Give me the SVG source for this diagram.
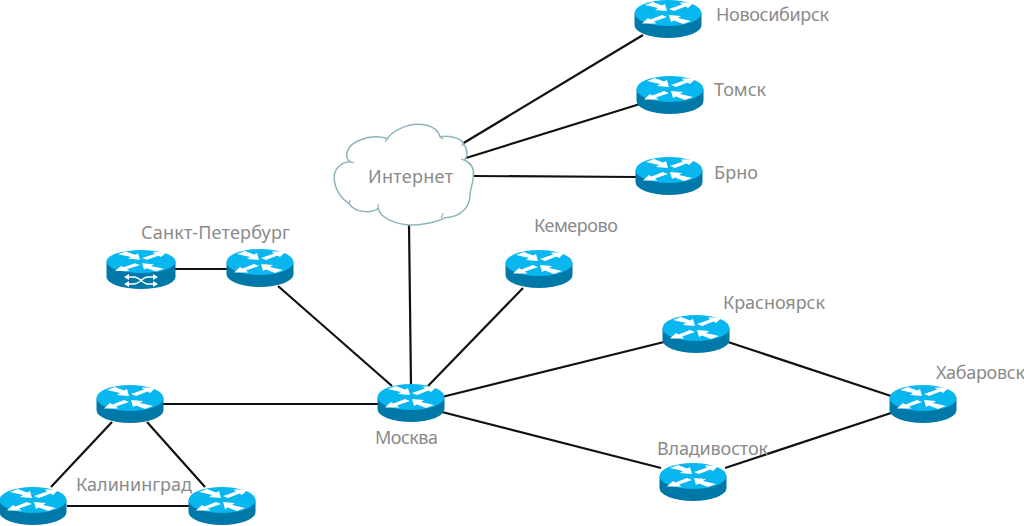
<svg xmlns="http://www.w3.org/2000/svg" width="1024" height="526" viewBox="0 0 1024 526">
<style>
.l{stroke:#111;stroke-width:2.2;fill:none}
.t{font-family:"Noto Sans","Open Sans",sans-serif;font-size:18px;fill:#8a8a8a}
.a{fill:#fff}
</style>
<defs>
<g id="arrows">
<path class="a" d="M1-4L14-8.500L11.500-10.500L26-10.500L20-5L17.500-6.500L6-2Z"/>
<path class="a" d="M-1 4L-14 8.500L-11.500 10.500L-26 10.500L-20 5L-17.500 6.500L-6 2Z"/>
<path class="a" d="M-23-8L-15-11L-6-7.500L-3-9L-1-2L-13-3L-10-5Z"/>
<path class="a" d="M23 8L15 11L6 7.500L3 9L1 2L13 3L10 5Z"/>
</g>
<g id="router">
<path d="M-33.500 0V12A33.500 13 0 0 0 33.500 12V0Z" fill="#0078a8"/>
<ellipse rx="33.500" ry="13" fill="#08b6f0"/>
<use href="#arrows"/>
</g>
</defs>
<g id="connectors">
<line class="l" x1="462" y1="144" x2="643" y2="35"/>
<line class="l" x1="466" y1="158" x2="640" y2="104"/>
<line class="l" x1="473" y1="176" x2="637" y2="177"/>
<line class="l" x1="409" y1="224" x2="411" y2="386"/>
<line class="l" x1="175" y1="269" x2="227" y2="269"/>
<line class="l" x1="278" y1="286" x2="392" y2="386"/>
<line class="l" x1="523" y1="288" x2="428" y2="386"/>
<line class="l" x1="163" y1="404" x2="378" y2="404"/>
<line class="l" x1="442" y1="397" x2="664" y2="342"/>
<line class="l" x1="442" y1="412" x2="661" y2="468"/>
<line class="l" x1="728" y1="342" x2="891" y2="396"/>
<line class="l" x1="725" y1="468" x2="891" y2="413"/>
<line class="l" x1="112" y1="422" x2="51" y2="487"/>
<line class="l" x1="147" y1="422" x2="205" y2="487"/>
<line class="l" x1="67" y1="506" x2="189" y2="506"/>
</g>
<g id="internet">
<path d="M387.300 139C391.700 131.700 405 124.300 418.300 124.300C431 124.300 438 130 440 136.700C448.300 135 460 137.700 463.300 143.300C468.300 150 467.700 156.700 464.300 160C471.700 163.300 474.300 170 473.300 176.700C473.300 181.700 470 190 470 195C470 205 463.300 216.700 445 217.700C438.300 222 418.300 225.700 408.300 225C391.700 223.300 380 216.700 378.300 208.300C371.700 213.300 355 213.300 349 203.300C340 198.300 333.300 186.700 334.300 175C335.700 166.700 343.300 161.700 350 161.700C343.300 156.700 346.700 145 360 140C371.700 135 383.300 136.700 387.300 139Z" fill="#fff" stroke="#8fb5bc" stroke-width="1.500"/>
<path d="M443.300 213.300L441 218M378.300 208.300L378 204M349 203.300L350 200M350 161.700L354 163M387.300 139L385 142M440 136.700L443 139M463.300 143.300L462 146M464.300 160L461 159" fill="none" stroke="#8fb5bc" stroke-width="1.200"/>
<text class="t" x="368" y="183" textLength="85">Интернет</text>
</g>
<g id="novosibirsk"><use href="#router" x="668" y="13"/><text class="t" x="716" y="21" textLength="113">Новосибирск</text></g>
<g id="tomsk"><use href="#router" x="670" y="89"/><text class="t" x="714" y="96" textLength="52">Томск</text></g>
<g id="brno"><use href="#router" x="669" y="170"/><text class="t" x="714" y="179" textLength="44">Брно</text></g>
<g id="spb"><use href="#router" x="260" y="262"/><text class="t" x="141" y="239" textLength="149">Санкт-Петербург</text></g>
<g id="spb-switch">
<path d="M106.500 261V277A34.500 12 0 0 0 175.500 277V261Z" fill="#0078a8"/>
<ellipse cx="141" cy="261.500" rx="34.500" ry="11.500" fill="#08b6f0"/>
<use href="#arrows" transform="translate(141 261.500) scale(1 .9)"/>
<path d="M127 277H134C140 277 142 284 148 284H155M127 284H134C140 284 142 277 148 277H155" stroke="#fff" stroke-width="1.500" fill="none"/>
<path class="a" d="M153 274L158 277L153 280ZM153 281L158 284L153 287ZM129 274L124 277L129 280ZM129 281L124 284L129 287Z"/>
</g>
<g id="kemerovo"><use href="#router" x="539" y="263"/><text class="t" x="534" y="232" textLength="84">Кемерово</text></g>
<g id="krasnoyarsk"><use href="#router" x="696" y="328"/><text class="t" x="723" y="309" textLength="102">Красноярск</text></g>
<g id="khabarovsk"><use href="#router" x="923" y="398"/><text class="t" x="936" y="379" textLength="89">Хабаровск</text></g>
<g id="moscow"><use href="#router" x="411" y="397"/><text class="t" x="375" y="444" textLength="63">Москва</text></g>
<g id="vladivostok"><use href="#router" x="693" y="476"/><text class="t" x="657" y="455" textLength="111">Владивосток</text></g>
<g id="kaliningrad-a"><use href="#router" x="130" y="398"/></g>
<g id="kaliningrad-b"><use href="#router" x="33" y="500"/></g>
<g id="kaliningrad-c"><use href="#router" x="222" y="500"/><text class="t" x="76" y="491" textLength="116">Калининград</text></g>
</svg>
